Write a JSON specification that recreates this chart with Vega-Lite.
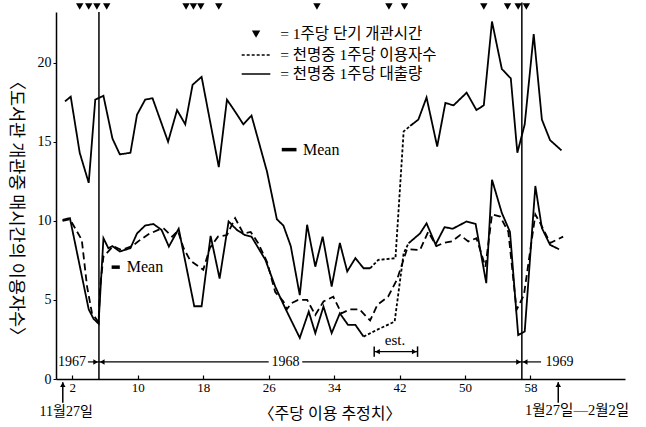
{
  "$schema": "https://vega.github.io/schema/vega-lite/v6.json",
  "width": 569,
  "height": 367,
  "autosize": {"type": "none"},
  "padding": {"left": 56, "top": 12, "right": 21, "bottom": 48},
  "background": "white",
  "config": {
    "view": {"stroke": null},
    "font": "'Liberation Serif', 'Noto Sans CJK KR', serif",
    "text": {"font": "'Liberation Serif', 'Noto Sans CJK KR', serif", "color": "black"}
  },
  "datasets": {
    "lines": [
      {"w": 1.1, "v": 17.55, "seg": "top1", "style": "solid"},
      {"w": 1.8, "v": 17.85, "seg": "top1", "style": "solid"},
      {"w": 2.9, "v": 14.3, "seg": "top1", "style": "solid"},
      {"w": 4.0, "v": 12.4, "seg": "top1", "style": "solid"},
      {"w": 4.8, "v": 17.66, "seg": "top1", "style": "solid"},
      {"w": 5.8, "v": 17.9, "seg": "top1", "style": "solid"},
      {"w": 6.9, "v": 15.2, "seg": "top1", "style": "solid"},
      {"w": 7.8, "v": 14.2, "seg": "top1", "style": "solid"},
      {"w": 9.1, "v": 14.3, "seg": "top1", "style": "solid"},
      {"w": 9.9, "v": 16.7, "seg": "top1", "style": "solid"},
      {"w": 10.9, "v": 17.66, "seg": "top1", "style": "solid"},
      {"w": 11.8, "v": 17.75, "seg": "top1", "style": "solid"},
      {"w": 13.7, "v": 15.0, "seg": "top1", "style": "solid"},
      {"w": 14.8, "v": 17.0, "seg": "top1", "style": "solid"},
      {"w": 15.8, "v": 16.1, "seg": "top1", "style": "solid"},
      {"w": 16.7, "v": 18.6, "seg": "top1", "style": "solid"},
      {"w": 17.8, "v": 19.1, "seg": "top1", "style": "solid"},
      {"w": 19.9, "v": 13.4, "seg": "top1", "style": "solid"},
      {"w": 20.9, "v": 17.66, "seg": "top1", "style": "solid"},
      {"w": 21.9, "v": 16.9, "seg": "top1", "style": "solid"},
      {"w": 22.9, "v": 16.1, "seg": "top1", "style": "solid"},
      {"w": 23.9, "v": 16.65, "seg": "top1", "style": "solid"},
      {"w": 25.8, "v": 13.1, "seg": "top1", "style": "solid"},
      {"w": 27.0, "v": 10.1, "seg": "top1", "style": "solid"},
      {"w": 27.8, "v": 9.7, "seg": "top1", "style": "solid"},
      {"w": 28.7, "v": 8.4, "seg": "top1", "style": "solid"},
      {"w": 29.8, "v": 5.3, "seg": "top1", "style": "solid"},
      {"w": 30.7, "v": 9.75, "seg": "top1", "style": "solid"},
      {"w": 31.7, "v": 7.1, "seg": "top1", "style": "solid"},
      {"w": 32.6, "v": 9.0, "seg": "top1", "style": "solid"},
      {"w": 33.7, "v": 5.84, "seg": "top1", "style": "solid"},
      {"w": 34.7, "v": 8.6, "seg": "top1", "style": "solid"},
      {"w": 35.6, "v": 6.8, "seg": "top1", "style": "solid"},
      {"w": 36.6, "v": 7.64, "seg": "top1", "style": "solid"},
      {"w": 37.6, "v": 7.0, "seg": "top1", "style": "solid"},
      {"w": 38.4, "v": 7.0, "seg": "top1", "style": "solid"},
      {"w": 38.4, "v": 7.0, "seg": "topEst", "style": "dotted"},
      {"w": 39.4, "v": 7.53, "seg": "topEst", "style": "dotted"},
      {"w": 41.5, "v": 7.64, "seg": "topEst", "style": "dotted"},
      {"w": 42.5, "v": 15.65, "seg": "topEst", "style": "dotted"},
      {"w": 43.3, "v": 16.0, "seg": "topEst", "style": "dotted"},
      {"w": 43.3, "v": 16.0, "seg": "top2", "style": "solid"},
      {"w": 44.3, "v": 16.4, "seg": "top2", "style": "solid"},
      {"w": 45.3, "v": 17.8, "seg": "top2", "style": "solid"},
      {"w": 46.6, "v": 14.7, "seg": "top2", "style": "solid"},
      {"w": 47.6, "v": 17.45, "seg": "top2", "style": "solid"},
      {"w": 48.6, "v": 17.3, "seg": "top2", "style": "solid"},
      {"w": 50.2, "v": 18.1, "seg": "top2", "style": "solid"},
      {"w": 51.4, "v": 17.0, "seg": "top2", "style": "solid"},
      {"w": 52.3, "v": 17.3, "seg": "top2", "style": "solid"},
      {"w": 53.3, "v": 22.6, "seg": "top2", "style": "solid"},
      {"w": 54.5, "v": 19.6, "seg": "top2", "style": "solid"},
      {"w": 55.6, "v": 19.0, "seg": "top2", "style": "solid"},
      {"w": 56.4, "v": 14.3, "seg": "top2", "style": "solid"},
      {"w": 57.3, "v": 16.1, "seg": "top2", "style": "solid"},
      {"w": 58.4, "v": 21.8, "seg": "top2", "style": "solid"},
      {"w": 59.4, "v": 16.4, "seg": "top2", "style": "solid"},
      {"w": 60.4, "v": 15.1, "seg": "top2", "style": "solid"},
      {"w": 61.8, "v": 14.45, "seg": "top2", "style": "solid"},

      {"w": 0.8, "v": 10.06, "seg": "low1", "style": "solid"},
      {"w": 1.7, "v": 10.17, "seg": "low1", "style": "solid"},
      {"w": 4.0, "v": 4.4, "seg": "low1", "style": "solid"},
      {"w": 4.6, "v": 3.8, "seg": "low1", "style": "solid"},
      {"w": 5.2, "v": 3.5, "seg": "low1", "style": "solid"},
      {"w": 5.8, "v": 8.9, "seg": "low1", "style": "solid"},
      {"w": 6.4, "v": 8.27, "seg": "low1", "style": "solid"},
      {"w": 6.9, "v": 8.4, "seg": "low1", "style": "solid"},
      {"w": 7.8, "v": 8.06, "seg": "low1", "style": "solid"},
      {"w": 9.1, "v": 8.27, "seg": "low1", "style": "solid"},
      {"w": 9.9, "v": 9.2, "seg": "low1", "style": "solid"},
      {"w": 10.9, "v": 9.7, "seg": "low1", "style": "solid"},
      {"w": 11.9, "v": 9.8, "seg": "low1", "style": "solid"},
      {"w": 12.9, "v": 9.43, "seg": "low1", "style": "solid"},
      {"w": 13.8, "v": 8.37, "seg": "low1", "style": "solid"},
      {"w": 15.0, "v": 9.5, "seg": "low1", "style": "solid"},
      {"w": 16.9, "v": 4.6, "seg": "low1", "style": "solid"},
      {"w": 17.8, "v": 4.6, "seg": "low1", "style": "solid"},
      {"w": 18.9, "v": 9.05, "seg": "low1", "style": "solid"},
      {"w": 20.0, "v": 6.35, "seg": "low1", "style": "solid"},
      {"w": 21.1, "v": 9.96, "seg": "low1", "style": "solid"},
      {"w": 22.1, "v": 9.43, "seg": "low1", "style": "solid"},
      {"w": 23.1, "v": 9.1, "seg": "low1", "style": "solid"},
      {"w": 23.9, "v": 9.0, "seg": "low1", "style": "solid"},
      {"w": 25.6, "v": 7.53, "seg": "low1", "style": "solid"},
      {"w": 26.8, "v": 5.84, "seg": "low1", "style": "solid"},
      {"w": 28.0, "v": 4.5, "seg": "low1", "style": "solid"},
      {"w": 29.8, "v": 2.6, "seg": "low1", "style": "solid"},
      {"w": 30.9, "v": 4.26, "seg": "low1", "style": "solid"},
      {"w": 31.7, "v": 2.9, "seg": "low1", "style": "solid"},
      {"w": 32.7, "v": 4.58, "seg": "low1", "style": "solid"},
      {"w": 33.7, "v": 2.9, "seg": "low1", "style": "solid"},
      {"w": 34.7, "v": 4.15, "seg": "low1", "style": "solid"},
      {"w": 35.7, "v": 3.42, "seg": "low1", "style": "solid"},
      {"w": 36.6, "v": 3.42, "seg": "low1", "style": "solid"},
      {"w": 37.6, "v": 2.68, "seg": "low1", "style": "solid"},
      {"w": 37.6, "v": 2.68, "seg": "lowEst", "style": "dotted"},
      {"w": 39.2, "v": 3.1, "seg": "lowEst", "style": "dotted"},
      {"w": 41.4, "v": 3.63, "seg": "lowEst", "style": "dotted"},
      {"w": 42.5, "v": 7.95, "seg": "lowEst", "style": "dotted"},
      {"w": 43.1, "v": 8.58, "seg": "lowEst", "style": "dotted"},
      {"w": 43.1, "v": 8.58, "seg": "low2", "style": "solid"},
      {"w": 44.5, "v": 9.2, "seg": "low2", "style": "solid"},
      {"w": 45.3, "v": 9.84, "seg": "low2", "style": "solid"},
      {"w": 46.4, "v": 8.5, "seg": "low2", "style": "solid"},
      {"w": 47.5, "v": 9.6, "seg": "low2", "style": "solid"},
      {"w": 48.5, "v": 9.5, "seg": "low2", "style": "solid"},
      {"w": 50.2, "v": 9.96, "seg": "low2", "style": "solid"},
      {"w": 51.3, "v": 9.8, "seg": "low2", "style": "solid"},
      {"w": 52.6, "v": 6.06, "seg": "low2", "style": "solid"},
      {"w": 53.3, "v": 12.6, "seg": "low2", "style": "solid"},
      {"w": 54.5, "v": 10.5, "seg": "low2", "style": "solid"},
      {"w": 55.5, "v": 9.3, "seg": "low2", "style": "solid"},
      {"w": 56.5, "v": 2.78, "seg": "low2", "style": "solid"},
      {"w": 57.3, "v": 3.0, "seg": "low2", "style": "solid"},
      {"w": 58.6, "v": 12.2, "seg": "low2", "style": "solid"},
      {"w": 59.4, "v": 9.54, "seg": "low2", "style": "solid"},
      {"w": 60.4, "v": 8.48, "seg": "low2", "style": "solid"},
      {"w": 61.5, "v": 8.2, "seg": "low2", "style": "solid"},

      {"w": 0.8, "v": 10.0, "seg": "dash", "style": "dashed"},
      {"w": 1.7, "v": 10.1, "seg": "dash", "style": "dashed"},
      {"w": 3.15, "v": 8.8, "seg": "dash", "style": "dashed"},
      {"w": 3.8, "v": 5.84, "seg": "dash", "style": "dashed"},
      {"w": 4.4, "v": 4.15, "seg": "dash", "style": "dashed"},
      {"w": 5.2, "v": 3.6, "seg": "dash", "style": "dashed"},
      {"w": 5.4, "v": 5.84, "seg": "dash", "style": "dashed"},
      {"w": 5.8, "v": 7.74, "seg": "dash", "style": "dashed"},
      {"w": 7.0, "v": 8.4, "seg": "dash", "style": "dashed"},
      {"w": 8.0, "v": 8.16, "seg": "dash", "style": "dashed"},
      {"w": 9.3, "v": 8.4, "seg": "dash", "style": "dashed"},
      {"w": 10.3, "v": 8.8, "seg": "dash", "style": "dashed"},
      {"w": 11.3, "v": 9.15, "seg": "dash", "style": "dashed"},
      {"w": 12.5, "v": 9.43, "seg": "dash", "style": "dashed"},
      {"w": 13.2, "v": 9.5, "seg": "dash", "style": "dashed"},
      {"w": 14.2, "v": 9.0, "seg": "dash", "style": "dashed"},
      {"w": 14.9, "v": 9.37, "seg": "dash", "style": "dashed"},
      {"w": 15.6, "v": 8.27, "seg": "dash", "style": "dashed"},
      {"w": 16.4, "v": 7.5, "seg": "dash", "style": "dashed"},
      {"w": 18.0, "v": 6.9, "seg": "dash", "style": "dashed"},
      {"w": 18.8, "v": 8.27, "seg": "dash", "style": "dashed"},
      {"w": 19.8, "v": 9.0, "seg": "dash", "style": "dashed"},
      {"w": 20.9, "v": 9.1, "seg": "dash", "style": "dashed"},
      {"w": 21.9, "v": 10.17, "seg": "dash", "style": "dashed"},
      {"w": 22.9, "v": 9.2, "seg": "dash", "style": "dashed"},
      {"w": 23.8, "v": 9.3, "seg": "dash", "style": "dashed"},
      {"w": 24.7, "v": 8.6, "seg": "dash", "style": "dashed"},
      {"w": 25.8, "v": 7.4, "seg": "dash", "style": "dashed"},
      {"w": 26.8, "v": 5.5, "seg": "dash", "style": "dashed"},
      {"w": 27.8, "v": 4.9, "seg": "dash", "style": "dashed"},
      {"w": 28.2, "v": 4.4, "seg": "dash", "style": "dashed"},
      {"w": 28.8, "v": 4.8, "seg": "dash", "style": "dashed"},
      {"w": 29.6, "v": 5.0, "seg": "dash", "style": "dashed"},
      {"w": 30.7, "v": 5.0, "seg": "dash", "style": "dashed"},
      {"w": 31.7, "v": 4.05, "seg": "dash", "style": "dashed"},
      {"w": 32.7, "v": 4.9, "seg": "dash", "style": "dashed"},
      {"w": 33.9, "v": 5.2, "seg": "dash", "style": "dashed"},
      {"w": 34.9, "v": 4.15, "seg": "dash", "style": "dashed"},
      {"w": 35.9, "v": 4.4, "seg": "dash", "style": "dashed"},
      {"w": 37.1, "v": 4.4, "seg": "dash", "style": "dashed"},
      {"w": 38.4, "v": 3.7, "seg": "dash", "style": "dashed"},
      {"w": 39.3, "v": 4.7, "seg": "dash", "style": "dashed"},
      {"w": 40.6, "v": 5.2, "seg": "dash", "style": "dashed"},
      {"w": 41.7, "v": 6.3, "seg": "dash", "style": "dashed"},
      {"w": 42.9, "v": 8.2, "seg": "dash", "style": "dashed"},
      {"w": 44.5, "v": 8.16, "seg": "dash", "style": "dashed"},
      {"w": 45.5, "v": 9.3, "seg": "dash", "style": "dashed"},
      {"w": 46.5, "v": 8.4, "seg": "dash", "style": "dashed"},
      {"w": 47.4, "v": 8.6, "seg": "dash", "style": "dashed"},
      {"w": 48.4, "v": 8.7, "seg": "dash", "style": "dashed"},
      {"w": 49.4, "v": 9.1, "seg": "dash", "style": "dashed"},
      {"w": 50.4, "v": 8.7, "seg": "dash", "style": "dashed"},
      {"w": 51.4, "v": 8.9, "seg": "dash", "style": "dashed"},
      {"w": 52.5, "v": 7.1, "seg": "dash", "style": "dashed"},
      {"w": 53.3, "v": 10.4, "seg": "dash", "style": "dashed"},
      {"w": 54.3, "v": 10.27, "seg": "dash", "style": "dashed"},
      {"w": 55.3, "v": 9.3, "seg": "dash", "style": "dashed"},
      {"w": 56.3, "v": 4.37, "seg": "dash", "style": "dashed"},
      {"w": 57.2, "v": 5.3, "seg": "dash", "style": "dashed"},
      {"w": 58.6, "v": 10.4, "seg": "dash", "style": "dashed"},
      {"w": 59.2, "v": 9.85, "seg": "dash", "style": "dashed"},
      {"w": 60.4, "v": 8.6, "seg": "dash", "style": "dashed"},
      {"w": 62.0, "v": 9.0, "seg": "dash", "style": "dashed"}
    ],
    "triangles": [
      {"w": 2.9, "v": 23.55}, {"w": 4.0, "v": 23.55}, {"w": 5.0, "v": 23.55}, {"w": 6.2, "v": 23.55},
      {"w": 15.9, "v": 23.55}, {"w": 16.8, "v": 23.55}, {"w": 17.7, "v": 23.55}, {"w": 19.9, "v": 23.55},
      {"w": 31.9, "v": 23.55}, {"w": 40.7, "v": 23.55}, {"w": 42.6, "v": 23.55},
      {"w": 52.3, "v": 23.55}, {"w": 55.2, "v": 23.55}, {"w": 56.5, "v": 23.55}, {"w": 57.5, "v": 23.55}
    ],
    "vrules": [
      {"w": 5.25, "v0": 0, "v1": 23.2},
      {"w": 56.95, "v0": 0, "v1": 23.8}
    ],
    "hrules": [
      {"a": 3.9, "b": 5.25, "v": 1.08, "kind": "year"},
      {"a": 5.25, "b": 26.0, "v": 1.08, "kind": "year"},
      {"a": 30.1, "b": 56.95, "v": 1.08, "kind": "year"},
      {"a": 56.95, "b": 59.3, "v": 1.08, "kind": "year"},
      {"a": 38.9, "b": 44.2, "v": 1.73, "kind": "est"}
    ],
    "meanbars": [
      {"a": 27.6, "b": 29.4, "v": 14.5},
      {"a": 6.8, "b": 7.8, "v": 7.07}
    ],
    "ticks": [
      {"w": 38.9, "v0": 1.4, "v1": 2.06},
      {"w": 44.2, "v0": 1.4, "v1": 2.06},
      {"w": 0.83, "v0": -1.5, "v1": -0.2},
      {"w": 61.4, "v0": -1.5, "v1": -0.2}
    ],
    "heads": [
      {"w": 4.85, "v": 1.08, "shape": "triangle-right"},
      {"w": 5.65, "v": 1.08, "shape": "triangle-left"},
      {"w": 56.55, "v": 1.08, "shape": "triangle-right"},
      {"w": 57.35, "v": 1.08, "shape": "triangle-left"},
      {"w": 39.3, "v": 1.73, "shape": "triangle-left"},
      {"w": 43.8, "v": 1.73, "shape": "triangle-right"},
      {"w": 0.83, "v": -0.35, "shape": "triangle-up"},
      {"w": 61.4, "v": -0.35, "shape": "triangle-up"}
    ],
    "labels": [
      {"w": 1.97, "v": 1.08, "t": "1967", "size": 14, "align": "center"},
      {"w": 28.05, "v": 1.08, "t": "1968", "size": 14, "align": "center"},
      {"w": 61.55, "v": 1.08, "t": "1969", "size": 14, "align": "center"},
      {"w": 41.45, "v": 2.45, "t": "est.", "size": 15, "align": "center"},
      {"w": 30.2, "v": 14.5, "t": "Mean", "size": 16, "align": "left"},
      {"w": 8.65, "v": 7.07, "t": "Mean", "size": 16, "align": "left"},
      {"w": 1.25, "v": -2.1, "t": "11월27일", "size": 14, "align": "center"},
      {"w": 63.7, "v": -2.0, "t": "1월27일—2월2일", "size": 14.5, "align": "center"},
      {"w": 33.5, "v": -2.2, "t": "〈주당 이용 추정치〉", "size": 16, "align": "center"},
      {"w": 27.4, "v": 21.8, "t": "= 1주당 단기 개관시간", "size": 15.5, "align": "left"},
      {"w": 27.4, "v": 20.48, "t": "= 천명중 1주당 이용자수", "size": 15.5, "align": "left"},
      {"w": 27.4, "v": 19.28, "t": "= 천명중 1주당 대출량", "size": 15.5, "align": "left"}
    ],
    "legendLines": [
      {"a": 22.7, "b": 26.2, "v": 20.48, "style": "dotted"},
      {"a": 22.7, "b": 26.2, "v": 19.28, "style": "solid"}
    ],
    "legendTri": [
      {"w": 24.46, "v": 21.8}
    ]
  },
  "layer": [
    {
      "data": {"name": "lines"},
      "mark": {"type": "line", "color": "black", "strokeWidth": 1.8},
      "encoding": {
        "x": {
          "field": "w", "type": "quantitative",
          "scale": {"domain": [0, 69.56], "nice": false, "zero": false},
          "axis": {
            "values": [2, 4, 6, 8, 10, 12, 14, 16, 18, 20, 22, 24, 26, 28, 30, 32, 34, 36, 38, 40, 42, 44, 46, 48, 50, 52, 54, 56, 58, 60, 62],
            "labelExpr": "(datum.value - 2) % 4 == 0 ? datum.label : ''",
            "title": null, "grid": false,
            "tickSize": -4, "tickColor": "black", "tickWidth": 1.2,
            "domainColor": "black", "domainWidth": 1.5,
            "labelColor": "black", "labelFontSize": 13, "labelPadding": 6,
            "labelFont": "'Liberation Serif', serif",
            "labelOverlap": false, "labelFlush": false
          }
        },
        "y": {
          "field": "v", "type": "quantitative",
          "scale": {"domain": [0, 23.2], "nice": false, "zero": false},
          "axis": {
            "values": [0, 5, 10, 15, 20],
            "title": "〈도서관 개관중 매시간의 이용자수〉",
            "titleAngle": 90, "titleX": -41, "titleY": 196, "titleAlign": "center", "titleBaseline": "middle",
            "titleFont": "'Noto Sans CJK KR', sans-serif", "titleFontSize": 17.5, "titleFontWeight": "normal", "titleColor": "black",
            "grid": false, "tickSize": 3, "tickColor": "black",
            "domainColor": "black", "domainWidth": 1.5,
            "labelColor": "black", "labelFontSize": 14, "labelPadding": 2,
            "labelFont": "'Liberation Serif', serif"
          }
        },
        "detail": {"field": "seg"},
        "strokeDash": {
          "field": "style", "type": "nominal",
          "scale": {"domain": ["solid", "dashed", "dotted"], "range": [[1, 0], [7, 4], [3, 2]]},
          "legend": null
        }
      }
    },
    {
      "data": {"name": "triangles"},
      "mark": {"type": "point", "shape": "triangle-down", "filled": true, "color": "black", "size": 55, "opacity": 1},
      "encoding": {"x": {"field": "w", "type": "quantitative"}, "y": {"field": "v", "type": "quantitative"}}
    },
    {
      "data": {"name": "legendTri"},
      "mark": {"type": "point", "shape": "triangle-down", "filled": true, "color": "black", "size": 70, "opacity": 1},
      "encoding": {"x": {"field": "w", "type": "quantitative"}, "y": {"field": "v", "type": "quantitative"}}
    },
    {
      "data": {"name": "vrules"},
      "mark": {"type": "rule", "color": "black", "strokeWidth": 1.5},
      "encoding": {
        "x": {"field": "w", "type": "quantitative"},
        "y": {"field": "v0", "type": "quantitative"},
        "y2": {"field": "v1"}
      }
    },
    {
      "data": {"name": "ticks"},
      "mark": {"type": "rule", "color": "black", "strokeWidth": 1.5},
      "encoding": {
        "x": {"field": "w", "type": "quantitative"},
        "y": {"field": "v0", "type": "quantitative"},
        "y2": {"field": "v1"}
      }
    },
    {
      "data": {"name": "hrules"},
      "mark": {"type": "rule", "color": "black", "strokeWidth": 1.2},
      "encoding": {
        "x": {"field": "a", "type": "quantitative"},
        "x2": {"field": "b"},
        "y": {"field": "v", "type": "quantitative"}
      }
    },
    {
      "data": {"name": "meanbars"},
      "mark": {"type": "rule", "color": "black", "strokeWidth": 3.5},
      "encoding": {
        "x": {"field": "a", "type": "quantitative"},
        "x2": {"field": "b"},
        "y": {"field": "v", "type": "quantitative"}
      }
    },
    {
      "data": {"name": "legendLines"},
      "mark": {"type": "rule", "color": "black", "strokeWidth": 1.5},
      "encoding": {
        "x": {"field": "a", "type": "quantitative"},
        "x2": {"field": "b"},
        "y": {"field": "v", "type": "quantitative"},
        "strokeDash": {
          "field": "style", "type": "nominal",
          "scale": {"domain": ["solid", "dashed", "dotted"], "range": [[1, 0], [7, 4], [3, 2]]},
          "legend": null
        }
      }
    },
    {
      "data": {"name": "heads"},
      "mark": {"type": "point", "filled": true, "color": "black", "size": 30, "opacity": 1},
      "encoding": {
        "x": {"field": "w", "type": "quantitative"},
        "y": {"field": "v", "type": "quantitative"},
        "shape": {"field": "shape", "type": "nominal", "scale": null, "legend": null}
      }
    },
    {
      "data": {"name": "labels"},
      "transform": [{"filter": "datum.align == 'center'"}],
      "mark": {"type": "text", "baseline": "middle", "align": "center", "color": "black"},
      "encoding": {
        "x": {"field": "w", "type": "quantitative"},
        "y": {"field": "v", "type": "quantitative"},
        "text": {"field": "t"},
        "size": {"field": "size", "type": "quantitative", "scale": null, "legend": null}
      }
    },
    {
      "data": {"name": "labels"},
      "transform": [{"filter": "datum.align == 'left'"}],
      "mark": {"type": "text", "baseline": "middle", "align": "left", "color": "black"},
      "encoding": {
        "x": {"field": "w", "type": "quantitative"},
        "y": {"field": "v", "type": "quantitative"},
        "text": {"field": "t"},
        "size": {"field": "size", "type": "quantitative", "scale": null, "legend": null}
      }
    }
  ]
}
